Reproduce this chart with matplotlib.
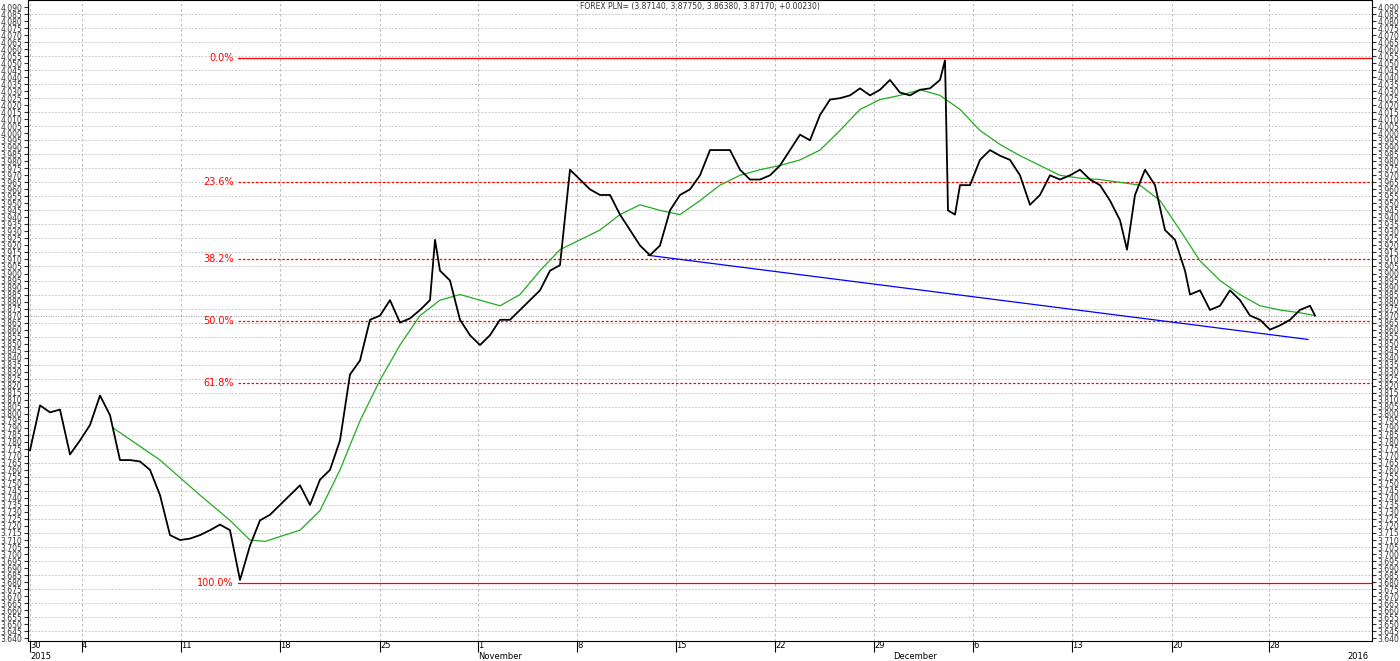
import numpy as np
import matplotlib.pyplot as plt
from matplotlib.ticker import FormatStrFormatter

# bar index (time axis) and close prices
bars = [30, 40, 50, 60, 70, 80, 90, 100, 110, 120, 130, 140, 150, 160, 170, 180, 190, 200,
        210, 220, 230, 240, 250, 260, 270, 280, 290, 300, 310, 320, 330, 340, 350, 360, 370,
        380, 390, 400, 410, 420, 430, 435, 440, 450, 460, 470, 480, 490, 500, 510, 520, 530,
        540, 550, 560, 570, 580, 590, 600, 610, 620, 630, 640, 650, 660, 670, 680, 690, 700,
        710, 720, 730, 740, 750, 760, 770, 780, 790, 800, 810, 820, 830, 840, 850, 860, 870,
        880, 890, 900, 910, 920, 930, 940, 945, 948, 955, 960, 970, 980, 990, 1000, 1010,
        1020, 1030, 1040, 1050, 1060, 1070, 1080, 1090, 1100, 1110, 1120, 1127, 1135, 1145,
        1155, 1165, 1175, 1185, 1190, 1200, 1210, 1220, 1230, 1240, 1250, 1260, 1270, 1280,
        1290, 1300, 1310, 1315]
close = [3.774, 3.806, 3.801, 3.803, 3.771, 3.781, 3.792, 3.813, 3.799, 3.767, 3.767, 3.766,
         3.760, 3.742, 3.7135, 3.710, 3.711, 3.7135, 3.717, 3.721, 3.717, 3.6815, 3.706,
         3.724, 3.728, 3.735, 3.742, 3.749, 3.735, 3.753, 3.760, 3.781, 3.828, 3.838, 3.867,
         3.870, 3.881, 3.865, 3.868, 3.874, 3.881, 3.924, 3.902, 3.895, 3.867, 3.856, 3.849,
         3.856, 3.867, 3.867, 3.874, 3.881, 3.888, 3.902, 3.906, 3.974, 3.967, 3.960, 3.956,
         3.956, 3.942, 3.931, 3.920, 3.913, 3.920, 3.945, 3.956, 3.960, 3.970, 3.988, 3.988,
         3.988, 3.974, 3.967, 3.967, 3.970, 3.977, 3.988, 3.999, 3.995, 4.013, 4.024, 4.025,
         4.027, 4.032, 4.027, 4.031, 4.038, 4.029, 4.027, 4.031, 4.032, 4.038, 4.052, 3.945,
         3.942, 3.963, 3.963, 3.981, 3.988, 3.984, 3.981, 3.970, 3.949, 3.956, 3.970, 3.967,
         3.970, 3.974, 3.967, 3.963, 3.952, 3.938, 3.917, 3.956, 3.974, 3.963, 3.931, 3.924,
         3.902, 3.885, 3.888, 3.874, 3.877, 3.888, 3.881, 3.870, 3.867, 3.860, 3.863, 3.867,
         3.874, 3.877, 3.870]

sma_bars = [113, 160, 200, 230, 250, 265, 300, 320, 340, 360, 380, 400, 420, 440, 460, 480,
            500, 520, 540, 560, 580, 600, 620, 640, 660, 680, 700, 720, 740, 760, 780, 800,
            820, 840, 860, 880, 900, 920, 940, 960, 980, 1000, 1020, 1040, 1060, 1080, 1100,
            1120, 1140, 1160, 1180, 1200, 1220, 1240, 1260, 1280, 1300, 1315]
sma = [3.790, 3.767, 3.742, 3.724, 3.710, 3.709, 3.717, 3.731, 3.760, 3.795, 3.824, 3.849,
       3.870, 3.881, 3.885, 3.881, 3.877, 3.885, 3.902, 3.917, 3.924, 3.931, 3.942, 3.949,
       3.945, 3.942, 3.952, 3.963, 3.970, 3.974, 3.977, 3.981, 3.988, 4.002, 4.017, 4.024,
       4.027, 4.031, 4.027, 4.017, 4.002, 3.992, 3.984, 3.977, 3.970, 3.968, 3.967, 3.965,
       3.963, 3.952, 3.931, 3.909, 3.895, 3.885, 3.877, 3.874, 3.872, 3.870]

trend_bars = [648, 1308]
trend = [3.913, 3.853]

fib_high = 4.0536
fib_low = 3.6792
fib_pcts = [0.0, 23.6, 38.2, 50.0, 61.8, 100.0]

week_ticks = [30, 82, 181, 280, 380, 478, 577, 676, 775, 874, 973, 1072, 1172, 1269]
week_labels = ['30', '4', '11', '18', '25', '1', '8', '15', '22', '29', '6', '13', '20', '28']
month_ticks = [30, 478, 893, 1347]
month_labels = ['2015', 'November', 'December', '2016']

fig = plt.figure(figsize=(14, 6.61), dpi=100)
ax = fig.add_axes([28 / 1400, 20 / 661, 1344 / 1400, 641 / 661])
ax.set_xlim(28, 1372)
ax.set_ylim(3.638, 4.095)

ax.set_yticks(np.round(np.arange(3.640, 4.0901, 0.005), 3))
ax.yaxis.set_major_formatter(FormatStrFormatter('%.3f'))
ax.tick_params(axis='y', which='both', labelsize=5.5, length=3, pad=1,
               left=True, right=True, labelleft=True, labelright=True, colors='#333333')
for g in np.arange(3.645, 4.0901, 0.010):
    ax.axhline(g, color='#b8b8b8', linestyle=(0, (2, 2)), linewidth=0.6, zorder=0)
ax.set_xticks(week_ticks)
ax.set_xticklabels(week_labels)
ax.tick_params(axis='x', labelsize=6, length=8, direction='out', pad=-8)
for lab in ax.get_xticklabels():
    lab.set_horizontalalignment('left')
ax.grid(axis='x', color='#b0b0b0', linestyle=(0, (3, 3)), linewidth=0.6)

rng = fib_high - fib_low
for p in fib_pcts:
    lvl = fib_high - rng * p / 100
    ls = '-' if p in (0.0, 100.0) else (0, (2, 1.5))
    ax.plot([238, 1372], [lvl, lvl], color='red', linewidth=0.9, linestyle=ls)
    ax.text(234, lvl, f'{p:.1f}%', color='red', fontsize=7, ha='right', va='center')

ax.axhline(close[-1], color='#777777', linestyle=(0, (1, 2)), linewidth=0.6)
ax.plot(sma_bars, sma, color='#22aa22', linewidth=0.9)
ax.plot(trend_bars, trend, color='blue', linewidth=0.9)
ax.plot(bars, close, color='black', linewidth=1.3)

ax.text(0.5, 0.997, 'FOREX PLN= (3.87140, 3.87750, 3.86380, 3.87170, +0.00230)',
        transform=ax.transAxes, fontsize=5.5, ha='center', va='top', color='#333333')

for t, lab in zip(month_ticks, month_labels):
    ax.annotate(lab, xy=(t, 0), xycoords=('data', 'axes fraction'), xytext=(0, -11),
                textcoords='offset points', fontsize=6, ha='left', va='center',
                annotation_clip=False)

fig.savefig('out.png', dpi=100, facecolor='white')
